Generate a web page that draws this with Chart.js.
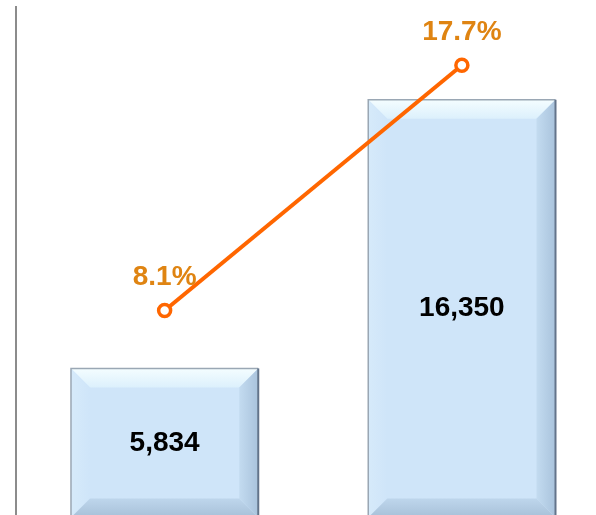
<!DOCTYPE html>
<html>
<head>
<meta charset="utf-8">
<script src="https://cdn.jsdelivr.net/npm/chart.js@4.4.0/dist/chart.umd.min.js"></script>
<style>
  html, body { margin: 0; padding: 0; background: #fff; overflow: hidden; }
  #wrap { position: absolute; left: 0; top: -3px; width: 620px; height: 530px; }
</style>
</head>
<body>
<div id="wrap"><canvas id="combo" width="620" height="530"></canvas></div>
<script>
const categories = ['A', 'B'];
const volumes = [5834, 16350];
const shares = [8.1, 17.7];

// bevelled "3D" bars drawn over the plain bars, labels on top
const bevelPlugin = {
    id: 'bevel',
    afterDatasetDraw(chart, args) {
        if (args.index !== 0) return;
        const ctx = chart.ctx;
        ctx.save();
        args.meta.data.forEach((bar) => {
            const l = bar.x - bar.width / 2, r = bar.x + bar.width / 2;
            const t = bar.y, b = bar.base;
            const d = 19;
            const face = (pts, fill) => {
                ctx.beginPath();
                ctx.moveTo(pts[0][0], pts[0][1]);
                pts.slice(1).forEach(p => ctx.lineTo(p[0], p[1]));
                ctx.closePath();
                ctx.fillStyle = fill;
                ctx.fill();
            };
            ctx.fillStyle = '#cfe5f9';
            ctx.fillRect(l, t, r - l, b - t);
            let g = ctx.createLinearGradient(0, t, 0, t + d);
            g.addColorStop(0, '#f4fdff');
            g.addColorStop(1, '#dcf0fc');
            face([[l, t], [r, t], [r - d, t + d], [l + d, t + d]], g);
            g = ctx.createLinearGradient(l, 0, l + d, 0);
            g.addColorStop(0, '#d6eafa');
            g.addColorStop(1, '#cfe5f9');
            face([[l, t], [l + d, t + d], [l + d, b - d], [l, b]], g);
            g = ctx.createLinearGradient(r - d, 0, r, 0);
            g.addColorStop(0, '#c3dbf0');
            g.addColorStop(1, '#a9c3dc');
            face([[r, t], [r - d, t + d], [r - d, b - d], [r, b]], g);
            g = ctx.createLinearGradient(0, b - d, 0, b);
            g.addColorStop(0, '#bed6ec');
            g.addColorStop(1, '#a7c0d8');
            face([[l, b], [l + d, b - d], [r - d, b - d], [r, b]], g);
            ctx.lineWidth = 1.5;
            ctx.strokeStyle = '#9aa7b4';
            ctx.beginPath();
            ctx.moveTo(l, b); ctx.lineTo(l, t); ctx.lineTo(r, t);
            ctx.stroke();
            ctx.strokeStyle = '#63748a';
            ctx.lineWidth = 2;
            ctx.beginPath();
            ctx.moveTo(r, t); ctx.lineTo(r, b);
            ctx.stroke();
        });
        ctx.restore();
    },
    afterDatasetsDraw(chart) {
        const ctx = chart.ctx;
        ctx.save();
        ctx.textAlign = 'center';
        ctx.textBaseline = 'middle';
        ctx.font = 'bold 28px "Liberation Sans", Arial, sans-serif';
        ctx.fillStyle = '#000';
        chart.getDatasetMeta(0).data.forEach((bar, i) => {
            ctx.fillText(volumes[i].toLocaleString('en-US'), bar.x, (bar.y + bar.base) / 2);
        });
        ctx.fillStyle = '#df8412';
        chart.getDatasetMeta(1).data.forEach((pt, i) => {
            ctx.fillText(shares[i].toFixed(1) + '%', pt.x, pt.y - 33);
        });
        ctx.restore();
    }
};

const chart = new Chart(document.getElementById('combo'), {
    plugins: [bevelPlugin],
    data: {
        labels: categories,
        datasets: [{
            type: 'bar',
            data: volumes,
            yAxisID: 'y',
            backgroundColor: '#cfe5f9',
            barPercentage: 0.63,
            categoryPercentage: 1,
            order: 2
        }, {
            type: 'line',
            data: shares,
            yAxisID: 'y2',
            borderColor: '#ff6600',
            borderWidth: 4,
            pointRadius: 6,
            pointBorderWidth: 3.5,
            pointBackgroundColor: '#fff',
            pointBorderColor: '#ff6600',
            clip: false,
            order: 1
        }]
    },
    options: {
        responsive: false,
        animation: false,
        layout: { padding: { left: 8, top: 6, right: 5, bottom: 6 } },
        plugins: { legend: { display: false }, tooltip: { enabled: false } },
        scales: {
            x: { display: false },
            y: {
                min: 0, max: 20000,
                grid: { display: false },
                ticks: { display: false },
                border: { display: true, color: '#8c8c8c', width: 2 }
            },
            y2: { display: false, min: 0, max: 20 }
        }
    }
});
</script>
</body>
</html>
